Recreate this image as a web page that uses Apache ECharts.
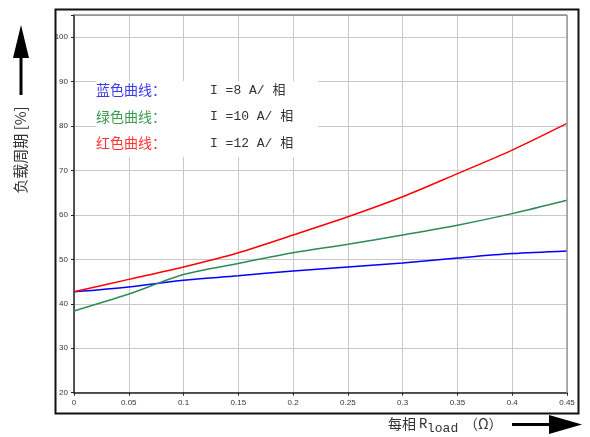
<!DOCTYPE html>
<html>
<head>
<meta charset="utf-8">
<script src="https://cdn.jsdelivr.net/npm/echarts@6/dist/echarts.min.js"></script>
<style>
  html, body { margin: 0; padding: 0; background: #fff; }
  #chart { width: 590px; height: 437px; }
</style>
</head>
<body>
<div id="chart"></div>
<script>
// Load resistance per phase (Ω)
const rLoad = [0, 0.05, 0.1, 0.15, 0.2, 0.25, 0.3, 0.35, 0.4, 0.45];
// Duty cycle (%) for each phase current
const dutyBlue  = [42.7, 43.8, 45.3, 46.3, 47.4, 48.3, 49.2, 50.3, 51.3, 51.9]; // 8 A
const dutyGreen = [38.4, 42.2, 46.6, 49.1, 51.5, 53.4, 55.5, 57.7, 60.3, 63.3]; // 10 A
const dutyRed   = [42.7, 45.5, 48.3, 51.5, 55.5, 59.6, 64.1, 69.3, 74.6, 80.6]; // 12 A

const legendNames = ['蓝色曲线：', '绿色曲线：', '红色曲线：'];
const legendValues = ['I =8 A/ 相', 'I =10 A/ 相', 'I =12 A/ 相'];
const legendColors = ['#3a3aee', '#3d9a4e', '#ff3333'];

const toPairs = ys => rLoad.map((x, i) => [x, ys[i]]);

const chart = echarts.init(document.getElementById('chart'), null, { renderer: 'canvas' });

const tickFont = { fontFamily: 'Liberation Sans, Arial, sans-serif', fontSize: 8, color: '#333' };

const legendGraphics = [
  { type: 'rect', left: 96, top: 81, shape: { width: 222, height: 76 }, style: { fill: '#fff' }, z: 5 }
];
legendNames.forEach((name, i) => {
  legendGraphics.push({
    type: 'text', left: 96, top: 83 + i * 26.5, z: 6,
    style: { text: name, fill: legendColors[i], font: '14px "Noto Sans CJK SC", sans-serif' }
  });
  legendGraphics.push({
    type: 'text', left: 210, top: 84 + i * 26.5, z: 6,
    style: { text: legendValues[i], fill: '#333', font: '13px "Liberation Mono", "Noto Sans CJK SC", monospace' }
  });
});

const option = {
  animation: false,
  backgroundColor: '#fff',
  grid: { left: 74, top: 15, right: 23, bottom: 44.3 },
  xAxis: {
    type: 'value', min: 0, max: 0.45, interval: 0.05,
    axisLine: { show: true, onZero: false, lineStyle: { color: '#222', width: 1.5 } },
    axisTick: { show: true, length: 3, lineStyle: { color: '#222' } },
    axisLabel: Object.assign({ margin: 6 }, tickFont),
    splitLine: { show: true, lineStyle: { color: '#c8c8c8', width: 1 } }
  },
  yAxis: {
    type: 'value', min: 20, max: 105, interval: 10,
    axisLine: { show: true, onZero: false, lineStyle: { color: '#222', width: 1.5 } },
    axisTick: { show: true, length: 3, lineStyle: { color: '#222' } },
    axisLabel: Object.assign({
      margin: 6,
      formatter: v => (v > 100 ? '' : String(v))
    }, tickFont),
    splitLine: { show: true, lineStyle: { color: '#c8c8c8', width: 1 } }
  },
  series: [
    { type: 'line', data: toPairs(dutyBlue), smooth: 0.3, symbol: 'none', lineStyle: { color: '#0000ff', width: 1.5 }, z: 3 },
    { type: 'line', data: toPairs(dutyGreen), smooth: 0.3, symbol: 'none', lineStyle: { color: '#2e8b57', width: 1.5 }, z: 3 },
    { type: 'line', data: toPairs(dutyRed), smooth: 0.3, symbol: 'none', lineStyle: { color: '#ff0000', width: 1.5 }, z: 3 }
  ],
  graphic: [
    // outer frame
    { type: 'rect', left: 53, top: 7, shape: { width: 523, height: 404 }, style: { fill: 'none', stroke: '#111', lineWidth: 2 }, z: 10 },
    // top / right plot borders
    { type: 'line', shape: { x1: 74, y1: 15, x2: 567, y2: 15 }, style: { stroke: '#888', lineWidth: 1.5 }, z: 4 },
    { type: 'line', shape: { x1: 567, y1: 15, x2: 567, y2: 392.7 }, style: { stroke: '#999', lineWidth: 1.5 }, z: 4 },
    ...legendGraphics,
    // y-axis title with upward arrow
    { type: 'rect', shape: { x: 19.5, y: 55, width: 3, height: 40 }, style: { fill: '#000' }, z: 6 },
    { type: 'polygon', shape: { points: [[13, 58], [29, 58], [21, 25]] }, style: { fill: '#000' }, z: 6 },
    {
      type: 'text', x: 20, y: 150, rotation: Math.PI / 2, z: 6,
      style: { text: '负载周期 [%]', fill: '#333', font: '15px "Noto Sans CJK SC", sans-serif', align: 'center', verticalAlign: 'middle' }
    },
    // x-axis title: 每相 R_load (Ω), with right arrow
    {
      type: 'text', x: 388, y: 424, z: 6,
      style: { text: '每相', fill: '#333', font: '14px "Noto Sans CJK SC", sans-serif', verticalAlign: 'middle' }
    },
    {
      type: 'text', x: 419, y: 424, z: 6,
      style: { text: 'R', fill: '#333', font: '14px "Liberation Mono", monospace', verticalAlign: 'middle' }
    },
    {
      type: 'text', x: 427, y: 429, z: 6,
      style: { text: 'load', fill: '#333', font: '13px "Liberation Mono", monospace', verticalAlign: 'middle' }
    },
    {
      type: 'text', x: 464, y: 424, z: 6,
      style: { text: '（Ω）', fill: '#333', font: '14px "Noto Sans CJK SC", sans-serif', verticalAlign: 'middle' }
    },
    { type: 'rect', shape: { x: 512, y: 423, width: 40, height: 3 }, style: { fill: '#000' }, z: 6 },
    { type: 'polygon', shape: { points: [[549, 415], [549, 434], [582, 424.5]] }, style: { fill: '#000' }, z: 6 }
  ]
};

chart.setOption(option);
</script>
</body>
</html>
